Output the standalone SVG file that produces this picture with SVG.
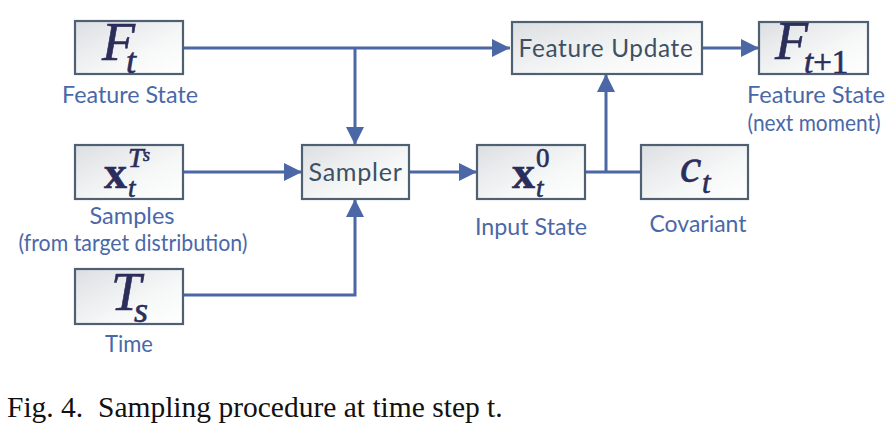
<svg xmlns="http://www.w3.org/2000/svg" width="896" height="430" viewBox="0 0 896 430">
<defs>
<linearGradient id="bg" x1="0" y1="0" x2="1" y2="1">
<stop offset="0" stop-color="#dcdfe2"/>
<stop offset="0.6" stop-color="#f6f7f7"/>
<stop offset="1" stop-color="#ffffff"/>
</linearGradient>
<marker id="ah" markerUnits="userSpaceOnUse" markerWidth="18" markerHeight="18" refX="18" refY="9" orient="auto">
<path d="M0,0 L18,9 L0,18 Z" fill="#4b67a6"/>
</marker>
</defs>
<style>
.box{fill:url(#bg);stroke:#4f6072;stroke-width:2.2}
.lbl{font-family:Lato,"Liberation Sans",sans-serif;font-size:23.5px;fill:#4a68a8;text-anchor:middle}
.btx{font-family:Lato,"Liberation Sans",sans-serif;font-size:25px;letter-spacing:0.7px;fill:#3e5064;text-anchor:middle}
.m{font-family:"Liberation Serif","Times New Roman",serif;fill:#2b2d5a;stroke:#2b2d5a;stroke-width:0.6}
.i{font-style:italic}
.b{font-weight:bold}
.con{fill:none;stroke:#4b67a6;stroke-width:3}
.cap{font-family:"Liberation Serif","Times New Roman",serif;font-size:29.5px;fill:#111}
</style>
<rect width="896" height="430" fill="#ffffff"/>
<g id="connectors">
<path class="con" d="M183,48 H510" marker-end="url(#ah)"/>
<path class="con" d="M355,48 V145" marker-end="url(#ah)"/>
<path class="con" d="M183,172 H302" marker-end="url(#ah)"/>
<path class="con" d="M183,295 H355 V199" marker-end="url(#ah)"/>
<path class="con" d="M409,172 H477" marker-end="url(#ah)"/>
<path class="con" d="M585,172 H641"/>
<path class="con" d="M606,172 V74" marker-end="url(#ah)"/>
<path class="con" d="M702,48 H759" marker-end="url(#ah)"/>
</g>
<g id="node-Ft">
<rect class="box" x="75" y="21" width="108" height="53"/>
<text class="m i" x="102" y="60" font-size="54">F<tspan x="126" y="73" font-size="36">t</tspan></text>
<text class="lbl" x="130" y="103" textLength="136" lengthAdjust="spacingAndGlyphs">Feature State</text>
</g>
<g id="node-xTs">
<rect class="box" x="75" y="145" width="108" height="54"/>
<text class="m b" x="104" y="188" font-size="46">x<tspan class="i" x="128" y="167" font-size="28" font-weight="normal">T</tspan><tspan class="i" x="143" y="161" font-size="18" font-weight="normal">s</tspan><tspan class="i" x="128" y="197" font-size="27" font-weight="normal">t</tspan></text>
<text class="lbl" x="132" y="224" textLength="85" lengthAdjust="spacingAndGlyphs">Samples</text>
<text class="lbl" x="133" y="251" textLength="229" lengthAdjust="spacingAndGlyphs">(from target distribution)</text>
</g>
<g id="node-Ts">
<rect class="box" x="75" y="269" width="108" height="55"/>
<text class="m i" x="111" y="310" font-size="54">T<tspan x="134" y="322" font-size="36">s</tspan></text>
<text class="lbl" x="129" y="352" textLength="48" lengthAdjust="spacingAndGlyphs">Time</text>
</g>
<g id="node-sampler">
<rect class="box" x="302" y="145" width="107" height="54"/>
<text class="btx" x="355.5" y="181" textLength="94" lengthAdjust="spacingAndGlyphs">Sampler</text>
</g>
<g id="node-x0">
<rect class="box" x="477" y="145" width="108" height="54"/>
<text class="m b" x="512" y="188" font-size="46">x<tspan x="536" y="167" font-size="27" font-weight="normal">0</tspan><tspan class="i" x="536" y="197" font-size="27" font-weight="normal">t</tspan></text>
<text class="lbl" x="531" y="235" textLength="112" lengthAdjust="spacingAndGlyphs">Input State</text>
</g>
<g id="node-ct">
<rect class="box" x="641" y="145" width="107" height="54"/>
<text class="m i" x="680" y="182" font-size="48">c<tspan x="702" y="193" font-size="31">t</tspan></text>
<text class="lbl" x="698" y="232" textLength="97" lengthAdjust="spacingAndGlyphs">Covariant</text>
</g>
<g id="node-update">
<rect class="box" x="512" y="22" width="190" height="52"/>
<text class="btx" x="606" y="57" textLength="175" lengthAdjust="spacingAndGlyphs">Feature Update</text>
</g>
<g id="node-Ft1">
<rect class="box" x="759" y="22" width="109" height="52"/>
<text class="m i" x="775" y="59" font-size="54">F<tspan x="804" y="73" font-size="33">t</tspan><tspan font-style="normal" font-size="33">+1</tspan></text>
<text class="lbl" x="816" y="103" textLength="138" lengthAdjust="spacingAndGlyphs">Feature State</text>
<text class="lbl" x="814" y="131" textLength="133" lengthAdjust="spacingAndGlyphs">(next moment)</text>
</g>
<text class="cap" x="7" y="417" xml:space="preserve">Fig. 4.  Sampling procedure at time step t.</text>
</svg>
